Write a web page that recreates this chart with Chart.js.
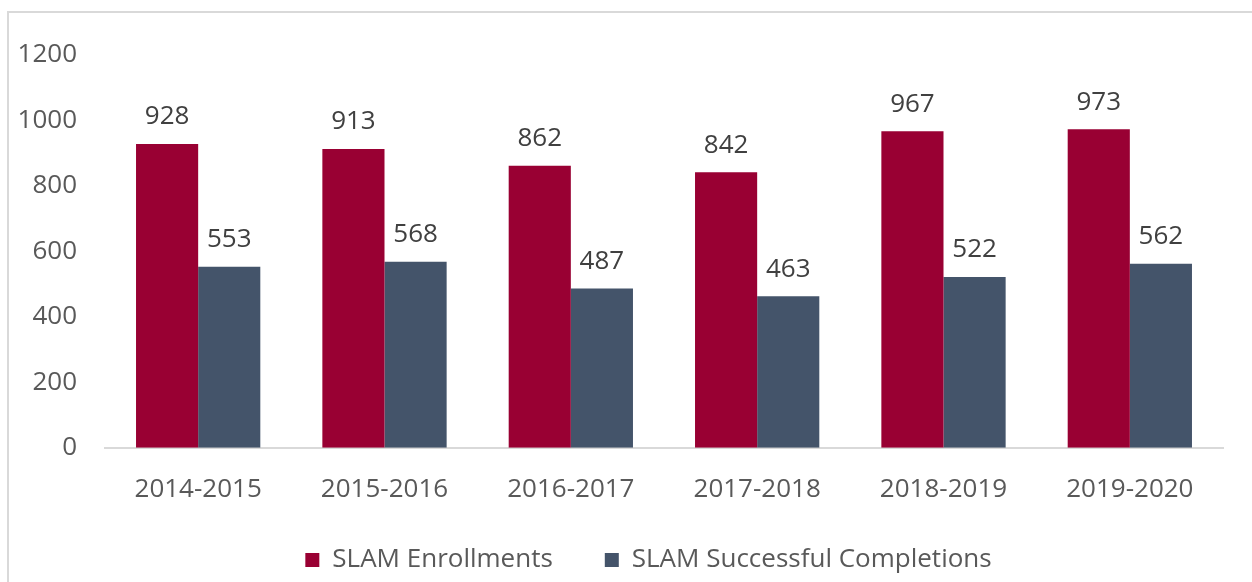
<!DOCTYPE html>
<html>
<head>
<meta charset="utf-8">
<script src="https://cdn.jsdelivr.net/npm/chart.js@4/dist/chart.umd.min.js"></script>
<style>
  html, body { margin: 0; padding: 0; background: #fff; overflow: hidden; }
  #frame {
    position: absolute; left: 7px; top: 11px; width: 1400px; height: 800px;
    border-left: 2px solid #d9d9d9; border-top: 2px solid #d9d9d9;
  }
  #wrap { position: absolute; left: 0; top: 0; width: 1252px; height: 582px; }
</style>
</head>
<body>
<div id="frame"></div>
<div id="wrap"><canvas id="chart" width="1252" height="582"></canvas></div>
<script>
const years = ['2014-2015', '2015-2016', '2016-2017', '2017-2018', '2018-2019', '2019-2020'];
const enrollments = [928, 913, 862, 842, 967, 973];
const completions = [553, 568, 487, 463, 522, 562];
const yTicks = [0, 200, 400, 600, 800, 1000, 1200];

const textColor = '#595959';
const fontFamily = '"Open Sans", "Noto Sans", sans-serif';

// value labels above each bar
const valueLabels = {
    id: 'valueLabels',
    afterDatasetsDraw(chart) {
        const ctx = chart.ctx;
        ctx.save();
        ctx.font = '26px ' + fontFamily;
        ctx.fillStyle = '#404040';
        ctx.textAlign = 'center';
        ctx.textBaseline = 'bottom';
        chart.data.datasets.forEach((ds, i) => {
            const meta = chart.getDatasetMeta(i);
            meta.data.forEach((bar, j) => {
                ctx.fillText(String(ds.data[j]), bar.x, bar.y - 14);
            });
        });
        ctx.restore();
    }
};

// nudge the legend to where the original sits
const legendShift = {
    id: 'legendShift',
    afterLayout(chart) {
        const lg = chart.legend;
        if (!lg) return;
        lg.left += 37;
        lg.right += 37;
        lg.top -= 28;
        lg.bottom -= 28;
    }
};

new Chart(document.getElementById('chart'), {
    type: 'bar',
    data: {
        labels: years,
        datasets: [{
            label: 'SLAM Enrollments',
            data: enrollments,
            backgroundColor: '#990033',
            categoryPercentage: 0.667,
            barPercentage: 1.0
        }, {
            label: 'SLAM Successful Completions',
            data: completions,
            backgroundColor: '#44546a',
            categoryPercentage: 0.667,
            barPercentage: 1.0
        }]
    },
    options: {
        responsive: false,
        animation: false,
        layout: { padding: { top: 55, right: 29, bottom: -29, left: 0 } },
        plugins: {
            legend: {
                position: 'bottom',
                labels: {
                    color: textColor,
                    font: { size: 26, family: fontFamily },
                    boxWidth: 14,
                    boxHeight: 14,
                    padding: 52
                }
            },
            tooltip: { enabled: false }
        },
        scales: {
            x: {
                grid: { display: false },
                border: { display: true, color: '#d9d9d9', width: 2 },
                ticks: {
                    color: textColor,
                    font: { size: 26, family: fontFamily },
                    padding: 18
                }
            },
            y: {
                min: 0,
                max: 1200,
                afterBuildTicks(axis) {
                    axis.ticks = yTicks.map(v => ({ value: v }));
                },
                afterFit(axis) { axis.width = 105; },
                grid: { display: false },
                border: { display: false },
                ticks: {
                    color: textColor,
                    font: { size: 26, family: fontFamily },
                    padding: 20,
                    callback: v => String(v)
                }
            }
        }
    },
    plugins: [valueLabels, legendShift]
});
</script>
</body>
</html>
